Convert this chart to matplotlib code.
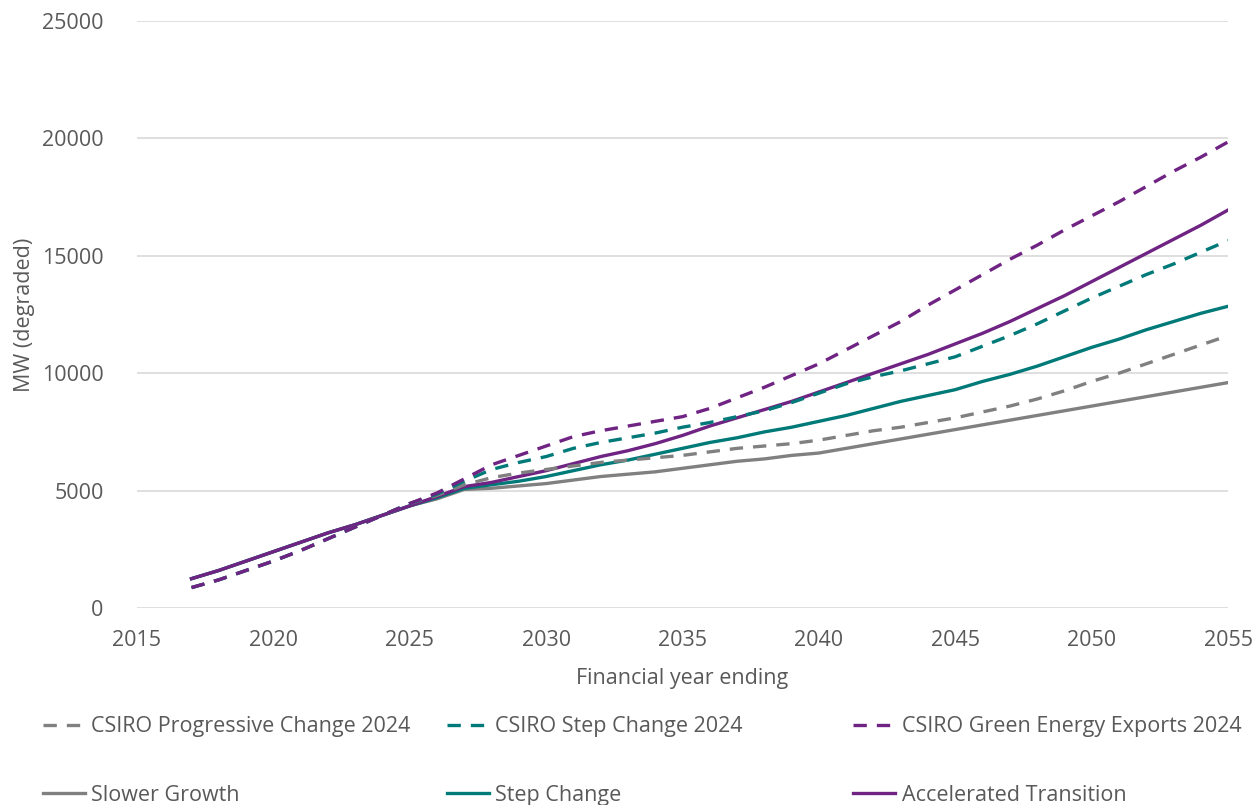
import numpy as np
import matplotlib.pyplot as plt
from matplotlib.lines import Line2D

years = list(range(2017, 2056))

# solid scenarios
slower_growth = [1250, 1600, 2000, 2400, 2800, 3200, 3550, 3950, 4350, 4650, 5050, 5100, 5200,
                 5300, 5450, 5600, 5700, 5800, 5950, 6100, 6250, 6350, 6500, 6600, 6800, 7000,
                 7200, 7400, 7600, 7800, 8000, 8200, 8400, 8600, 8800, 9000, 9200, 9400, 9600]
step_change = [1250, 1600, 2000, 2400, 2800, 3200, 3550, 3950, 4350, 4700, 5100, 5250, 5400,
               5600, 5850, 6100, 6300, 6550, 6800, 7050, 7250, 7500, 7700, 7950, 8200, 8500,
               8800, 9050, 9300, 9650, 9950, 10300, 10700, 11100, 11450, 11850, 12200, 12550, 12850]
accelerated = [1250, 1600, 2000, 2400, 2800, 3200, 3550, 3950, 4350, 4750, 5170, 5350, 5600,
               5850, 6150, 6450, 6700, 7000, 7350, 7750, 8100, 8450, 8800, 9200, 9600, 10000,
               10400, 10800, 11250, 11700, 12200, 12750, 13300, 13900, 14500, 15100, 15700, 16300, 16950]

# CSIRO dashed scenarios
csiro_progressive = [870, 1200, 1600, 2000, 2450, 2950, 3450, 3950, 4450, 4800, 5250, 5550, 5750,
                     5900, 6050, 6200, 6300, 6400, 6500, 6650, 6800, 6900, 7000, 7150, 7350, 7550,
                     7700, 7900, 8100, 8350, 8600, 8900, 9250, 9650, 10000, 10400, 10800, 11200, 11600]
csiro_step = [870, 1200, 1600, 2000, 2450, 2950, 3450, 3950, 4450, 4850, 5400, 5900, 6200,
              6450, 6800, 7050, 7250, 7450, 7700, 7900, 8150, 8400, 8750, 9150, 9550, 9850,
              10100, 10400, 10700, 11150, 11600, 12100, 12650, 13200, 13700, 14200, 14650, 15150, 15650]
csiro_green = [870, 1200, 1600, 2000, 2450, 2950, 3450, 3950, 4450, 4900, 5500, 6100, 6500,
               6900, 7300, 7550, 7750, 7950, 8150, 8500, 8950, 9400, 9900, 10400, 11000, 11600,
               12200, 12900, 13550, 14200, 14850, 15450, 16100, 16700, 17300, 17950, 18600, 19200, 19850]

GREY = "#808080"
TEAL = "#007A78"
PURPLE = "#6F2383"
TEXT = "#595959"
FS = 15.5

plt.rcParams["font.family"] = ["Open Sans", "DejaVu Sans"]

fig = plt.figure(figsize=(12.59, 8.05), dpi=100)
ax = fig.add_axes([0.1088, 0.2447, 0.8666, 0.7292])

lw = 2.4
dash = (4, 3)
ax.plot(years, slower_growth, color=GREY, lw=lw, label="Slower Growth")
ax.plot(years, step_change, color=TEAL, lw=lw, label="Step Change")
ax.plot(years, accelerated, color=PURPLE, lw=lw, label="Accelerated Transition")
ax.plot(years, csiro_progressive, color=GREY, lw=lw, dashes=dash, label="CSIRO Progressive Change 2024")
ax.plot(years, csiro_step, color=TEAL, lw=lw, dashes=dash, label="CSIRO Step Change 2024")
ax.plot(years, csiro_green, color=PURPLE, lw=lw, dashes=dash, label="CSIRO Green Energy Exports 2024")

ax.set_xlim(2015, 2055)
ax.set_ylim(0, 25000)
ax.set_xticks(range(2015, 2056, 5))
ax.set_yticks(range(0, 25001, 5000))
ax.grid(axis="y", color="#d9d9d9", lw=1.2)
ax.set_axisbelow(True)
for s in ax.spines.values():
    s.set_visible(False)
ax.tick_params(length=0, labelsize=FS, labelcolor=TEXT)
ax.tick_params(axis="y", pad=24)
ax.tick_params(axis="x", pad=16)
ax.set_xlabel("Financial year ending", fontsize=FS, color=TEXT, labelpad=12)
ax.set_ylabel("MW (degraded)", fontsize=FS, color=TEXT, labelpad=5)

# legend, three columns of (dashed, solid)
pairs = [(GREY, "CSIRO Progressive Change 2024", "Slower Growth"),
         (TEAL, "CSIRO Step Change 2024", "Step Change"),
         (PURPLE, "CSIRO Green Energy Exports 2024", "Accelerated Transition")]
xs = [0.027, 0.348, 0.671]
for x, (c, dlab, slab) in zip(xs, pairs):
    hs = [Line2D([], [], color=c, lw=lw, dashes=dash), Line2D([], [], color=c, lw=lw)]
    leg = fig.legend(hs, [dlab, slab], loc="upper left", bbox_to_anchor=(x, 0.121),
                     frameon=False, fontsize=FS, labelspacing=2.2, handlelength=1.95,
                     handletextpad=0.3, borderaxespad=0)
    for t in leg.get_texts():
        t.set_color(TEXT)

fig.savefig("out.png", dpi=100)
